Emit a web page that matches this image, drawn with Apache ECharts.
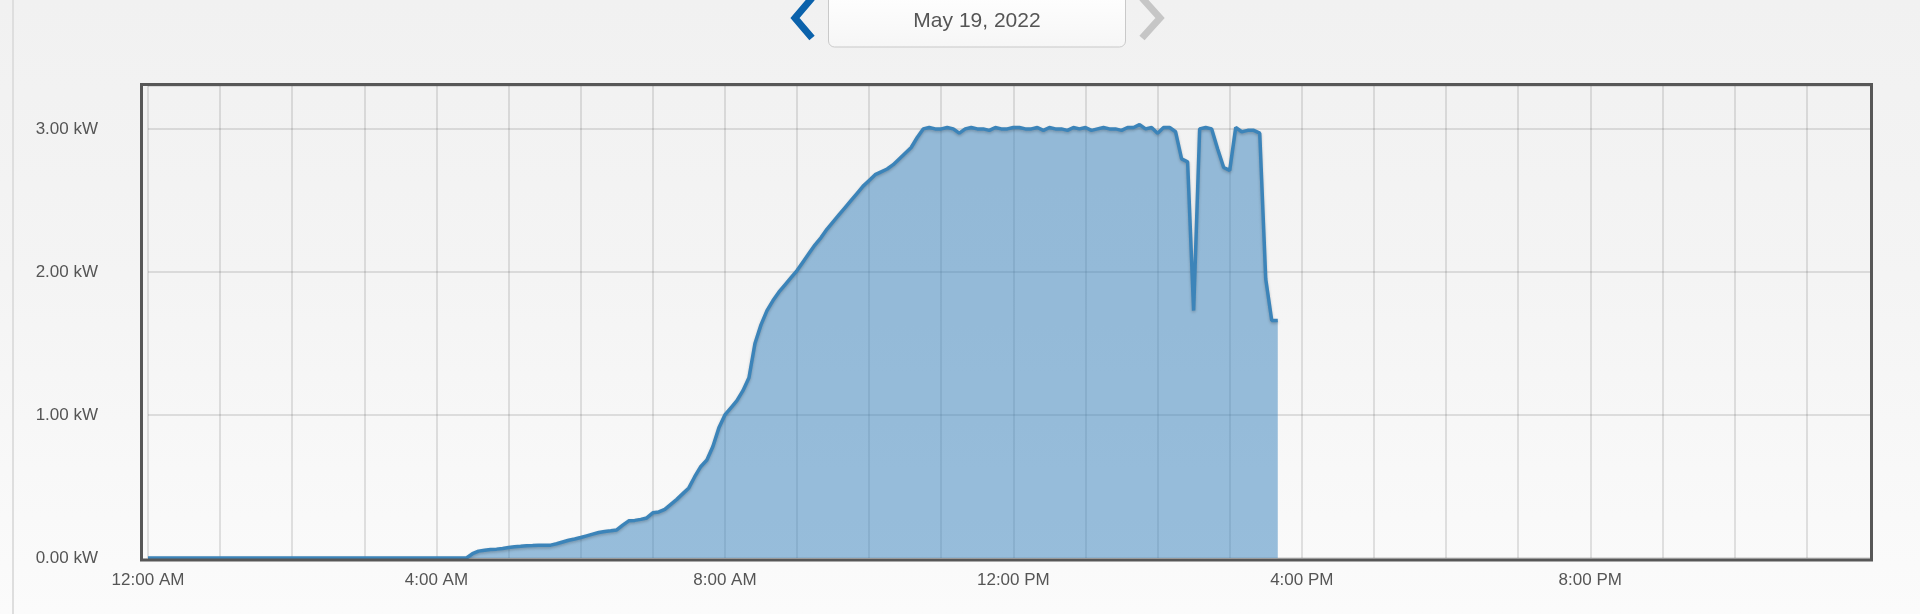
<!DOCTYPE html>
<html>
<head>
<meta charset="utf-8">
<script src="https://cdn.jsdelivr.net/npm/echarts@6/dist/echarts.min.js"></script>
<style>
  html, body { margin: 0; padding: 0; width: 1920px; height: 614px; overflow: hidden; }
  body { background: linear-gradient(to bottom, #f1f1f1 0%, #f4f4f4 45%, #fbfbfb 100%); position: relative; }
  #side { position: absolute; left: 12px; top: 0; width: 2px; height: 614px; background: #dedede; }
  #chart { position: absolute; left: 0; top: 0; width: 1920px; height: 614px; }
</style>
</head>
<body>
<div id="side"></div>
<div id="chart"></div>
<script>
// ---- data ----
const dateLabel = 'May 19, 2022';
const stepMinutes = 5; // sample spacing, first sample at 12:00 AM
const tickLabels = ['12:00 AM', '4:00 AM', '8:00 AM', '12:00 PM', '4:00 PM', '8:00 PM'];
const nightZeros = [
  0,0,0,0,0,0,0,0,0,0,0,0, 0,0,0,0,0,0,0,0,0,0,0,0,
  0,0,0,0,0,0,0,0,0,0,0,0, 0,0,0,0,0,0,0,0,0,0,0,0,
  0,0,0,0,0
]; // 0:00 - 4:20
const morningKW = [
  0, 0.03, 0.048, 0.054, 0.06, 0.062, 0.067,                 // 4:25 - 4:55
  0.073, 0.079, 0.082, 0.086, 0.087, 0.089, 0.09, 0.09, 0.10, 0.112, 0.124, 0.133, // 5:00 - 5:55
  0.143, 0.155, 0.167, 0.178, 0.185, 0.19, 0.196, 0.23, 0.26, 0.263, 0.27, 0.28,   // 6:00 - 6:55
  0.316, 0.322, 0.34, 0.375, 0.41, 0.45, 0.49, 0.57, 0.64, 0.685, 0.78, 0.91,      // 7:00 - 7:55
  1.00, 1.05, 1.10, 1.17, 1.26, 1.50, 1.63, 1.73, 1.80, 1.86, 1.91, 1.96,          // 8:00 - 8:55
  2.01, 2.07, 2.13, 2.19, 2.24, 2.30, 2.35, 2.40, 2.45, 2.50, 2.55, 2.60,          // 9:00 - 9:55
  2.64, 2.68, 2.70, 2.72, 2.75, 2.79, 2.83, 2.87, 2.94                             // 10:00 - 10:40
];
const middayKW = [
  3.00, 3.01, 3.00,                                                                // 10:45 - 10:55
  3.00, 3.01, 3.00, 2.97, 3.00, 3.01, 3.00, 3.00, 2.99, 3.01, 3.00, 3.00,          // 11:00 - 11:55
  3.01, 3.01, 3.00, 3.00, 3.01, 2.99, 3.01, 3.00, 3.00, 2.99, 3.01, 3.00,          // 12:00 - 12:55
  3.01, 2.99, 3.00, 3.01, 3.00, 3.00, 2.99, 3.01, 3.01, 3.03, 3.00, 3.01,          // 13:00 - 13:55
  2.97, 3.01, 3.01, 2.98                                                           // 14:00 - 14:15
];
const afternoonKW = [
  2.79, 2.77, 1.73, 3.00, 3.01, 3.00, 2.86, 2.73,                                  // 14:20 - 14:55
  2.71, 3.01, 2.98, 2.99, 2.99, 2.97, 1.95, 1.66, 1.66                             // 15:00 - 15:40
];
const yMaxKW = 3.3;
const xMaxHours = 23.9;

const powerKW = nightZeros.concat(morningKW, middayKW, afternoonKW);
const seriesData = powerKW.map((v, i) => [i * stepMinutes / 60, v]);

// ---- chart ----
const chart = echarts.init(document.getElementById('chart'), null, { renderer: 'canvas' });
const FONT = '"Liberation Sans", Arial, Helvetica, sans-serif';

chart.setOption({
  animation: false,
  backgroundColor: 'transparent',
  grid: { left: 148, right: 48.5, top: 86, bottom: 56, containLabel: false },
  xAxis: {
    type: 'value', min: 0, max: xMaxHours, interval: 1,
    axisLine: { show: false }, axisTick: { show: false },
    splitLine: { show: true, lineStyle: { color: 'rgba(0,0,0,0.14)', width: 1.5 } },
    axisLabel: {
      margin: 14, color: '#555', fontSize: 17, fontFamily: FONT,
      showMaxLabel: false,
      formatter: v => (Number.isInteger(v) && v % 4 === 0 && v / 4 < tickLabels.length) ? tickLabels[v / 4] : ''
    }
  },
  yAxis: {
    type: 'value', min: 0, max: yMaxKW, interval: 1,
    axisLine: { show: false }, axisTick: { show: false },
    splitLine: { show: true, lineStyle: { color: 'rgba(0,0,0,0.14)', width: 1.5 } },
    axisLabel: {
      margin: 50, color: '#555', fontSize: 17, fontFamily: FONT,
      formatter: v => Math.abs(v - Math.round(v)) < 1e-9 ? v.toFixed(2) + ' kW' : ''
    }
  },
  series: [{
    type: 'line', data: seriesData, showSymbol: false, smooth: false,
    lineStyle: { color: '#3c84b9', width: 3.5, shadowColor: 'rgba(0,0,0,0.22)', shadowBlur: 3, shadowOffsetY: 1.5 },
    areaStyle: { color: 'rgba(52,128,188,0.5)', opacity: 1 },
    z: 3
  }],
  graphic: [
    { type: 'rect', z: 100, silent: true,
      shape: { x: 141.5, y: 84.5, width: 1730, height: 475.5 },
      style: { fill: null, stroke: '#575757', lineWidth: 3 } },
    { type: 'rect', z: 100, silent: true,
      shape: { x: 828.5, y: -8, width: 297, height: 55, r: 6 },
      style: {
        fill: new echarts.graphic.LinearGradient(0, 0, 0, 1, [
          { offset: 0, color: '#ffffff' }, { offset: 1, color: '#f6f6f6' }
        ]),
        stroke: '#c9c9c9', lineWidth: 1
      } },
    { type: 'text', z: 101, silent: true, x: 977, y: 21,
      style: { text: dateLabel, fill: '#555', font: '21px ' + FONT, align: 'center', verticalAlign: 'middle' } },
    { type: 'polyline', z: 101, silent: true,
      shape: { points: [[812, -2], [795, 18], [812, 38]] },
      style: { stroke: '#0b62ab', lineWidth: 7, fill: null, lineJoin: 'miter', lineCap: 'butt' } },
    { type: 'polyline', z: 101, silent: true,
      shape: { points: [[1142, -2], [1160, 18], [1142, 38]] },
      style: { stroke: '#c6c6c6', lineWidth: 7, fill: null, lineJoin: 'miter', lineCap: 'butt' } }
  ]
});
</script>
</body>
</html>
